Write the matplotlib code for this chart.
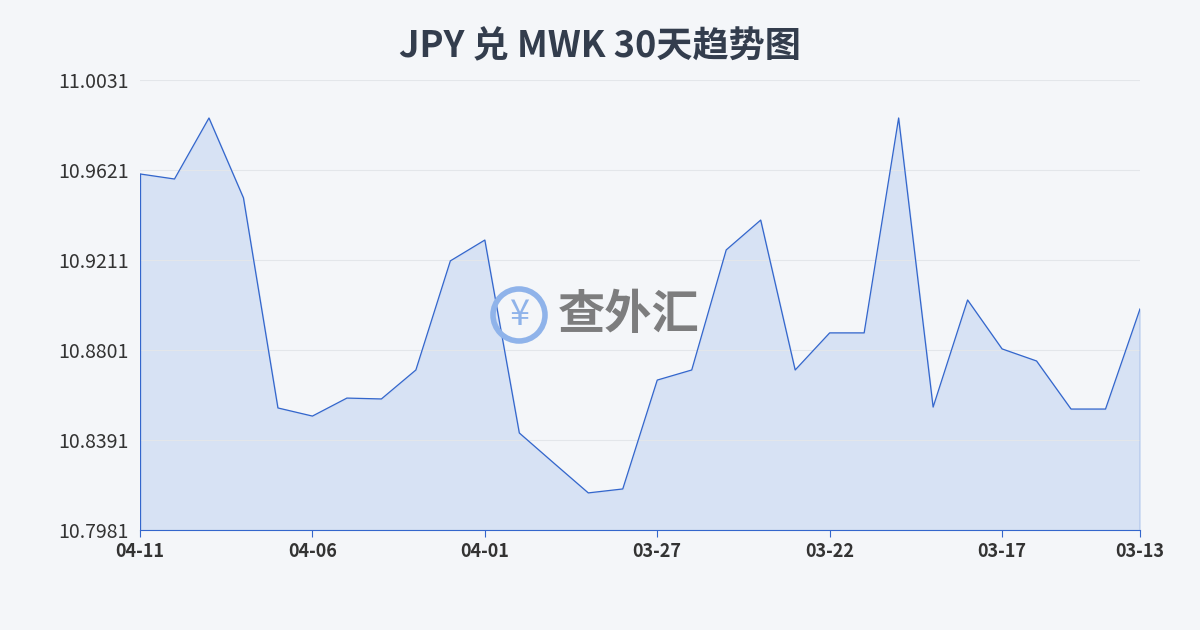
import matplotlib
matplotlib.use("Agg")
import matplotlib.pyplot as plt
from matplotlib.patches import Ellipse

plt.rcParams['font.family'] = ['Noto Sans CJK SC', 'DejaVu Sans']

values = [10.9603, 10.9580, 10.9858, 10.9494, 10.8537, 10.8500, 10.8582, 10.8578,
          10.8710, 10.9207, 10.9302, 10.8423, 10.8286, 10.8150, 10.8168, 10.8664,
          10.8710, 10.9257, 10.9393, 10.8710, 10.8879, 10.8879, 10.9858, 10.8541,
          10.9029, 10.8806, 10.8751, 10.8532, 10.8532, 10.8988]
tick_pos = [0, 5, 10, 15, 20, 25, 29]
tick_labels = ["04-11", "04-06", "04-01", "03-27", "03-22", "03-17", "03-13"]
yticks = [10.7981, 10.8391, 10.8801, 10.9211, 10.9621, 11.0031]

fig = plt.figure(figsize=(12, 6.3), dpi=100)
fig.patch.set_facecolor("#f4f6f9")
ax = fig.add_axes([140/1200, 100/630, 1000/1200, 450/630])
ax.set_facecolor("#f4f6f9")
x = list(range(len(values)))
ax.fill_between(x, values, yticks[0], color="#c5d5f2", alpha=0.6)
ax.plot(x, values, color="#3366cc", lw=0.9)
ax.plot([0, 0], [yticks[0], values[0]], color="#3366cc", lw=0.9)
ax.plot([29, 29], [yticks[0], values[-1]], color="#3366cc", lw=0.9)
ax.set_xlim(0, 29)
ax.set_ylim(yticks[0], yticks[-1])
ax.set_yticks(yticks)
ax.set_yticklabels([f"{v:.4f}" for v in yticks], fontsize=14, color="#333")
ax.set_xticks(tick_pos)
ax.set_xticklabels(tick_labels, fontsize=13, color="#333", fontweight="bold")
ax.grid(axis="y", color="#e3e6ea", lw=0.8)
for s in ["top", "right", "left"]:
    ax.spines[s].set_visible(False)
ax.spines["bottom"].set_color("#3366cc")
ax.tick_params(axis="y", length=0, pad=8)
ax.tick_params(axis="x", length=5, color="#3366cc")

fig.text(0.5, 0.925, "JPY 兑 MWK 30天趋势图", ha="center", va="center",
         fontsize=26, fontweight="bold", color="#333d4d")
cx, cy = 519/1200, 315/630
fig.text(cx, cy, "¥", ha="center", va="center", fontsize=26, color="#8fb3ea")
fig.patches.append(Ellipse((cx, cy), 52/1200, 52/630, transform=fig.transFigure,
                          fill=False, ec="#8fb3ea", lw=4))
fig.text(558/1200, cy, "查外汇", ha="left", va="center", fontsize=34,
         fontweight="bold", color="#555", alpha=0.75)
fig.savefig("out.png", dpi=100, facecolor=fig.get_facecolor())
